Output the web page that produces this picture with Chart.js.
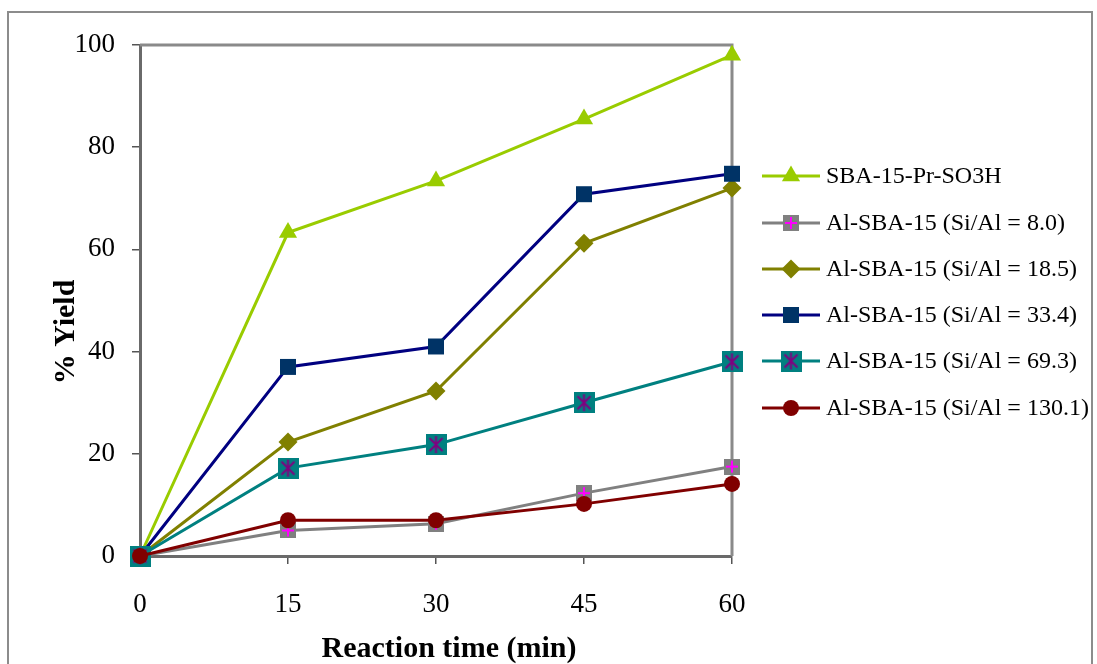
<!DOCTYPE html>
<html>
<head>
<meta charset="utf-8">
<script src="https://cdn.jsdelivr.net/npm/chart.js@4.4.1/dist/chart.umd.min.js"></script>
<style>
  html, body { margin: 0; padding: 0; background: #fff; }
  #wrap { width: 1097px; height: 664px; position: relative; }
</style>
</head>
<body>
<div id="wrap"><canvas id="c" width="1097" height="664"></canvas></div>
<script>
// Reaction time (min)
const times = [0, 15, 30, 45, 60];
const yTicks = [0, 20, 40, 60, 80, 100];

// % Yield per catalyst
const sbaPrSO3H = [0, 63.3, 73.4, 85.5, 98.0];
const alSi8_0   = [0, 5.0, 6.3, 12.3, 17.5];
const alSi18_5  = [0, 22.3, 32.3, 61.2, 72.0];
const alSi33_4  = [0, 37.0, 41.0, 70.8, 74.8];
const alSi69_3  = [0, 17.2, 21.8, 30.0, 38.0];
const alSi130_1 = [0, 7.0, 7.0, 10.2, 14.1];

const seriesNames = [
  'SBA-15-Pr-SO3H',
  'Al-SBA-15 (Si/Al = 8.0)',
  'Al-SBA-15 (Si/Al = 18.5)',
  'Al-SBA-15 (Si/Al = 33.4)',
  'Al-SBA-15 (Si/Al = 69.3)',
  'Al-SBA-15 (Si/Al = 130.1)'
];

const xTitle = 'Reaction time (min)';
const yTitle = '% Yield';

// Marker images for the two composite markers
function squareMarker(size, fill, drawGlyph) {
  const cv = document.createElement('canvas');
  cv.width = size; cv.height = size;
  const g = cv.getContext('2d');
  g.fillStyle = fill;
  g.fillRect(0, 0, size, size);
  drawGlyph(g, size);
  return cv;
}
const plusMarker = squareMarker(16, '#808080', (g, s) => {
  g.strokeStyle = '#FF00FF'; g.lineWidth = 2;
  g.beginPath();
  g.moveTo(s / 2, 2); g.lineTo(s / 2, s - 2);
  g.moveTo(2, s / 2); g.lineTo(s - 2, s / 2);
  g.stroke();
});
const starMarker = squareMarker(21, '#008080', (g, s) => {
  g.strokeStyle = '#800080'; g.lineWidth = 2;
  g.beginPath();
  g.moveTo(s / 2, 2); g.lineTo(s / 2, s - 2);
  g.moveTo(4, 4); g.lineTo(s - 4, s - 4);
  g.moveTo(s - 4, 4); g.lineTo(4, s - 4);
  g.stroke();
});

function pts(vals) { return times.map((t, i) => ({ x: t, y: vals[i] })); }

const styles = [
  { line: '#99CC00', fill: '#99CC00', style: 'triangle', r: 10.5 },
  { line: '#808080', fill: '#808080', style: plusMarker, r: 8 },
  { line: '#808000', fill: '#808000', style: 'rectRot', r: 9.5 },
  { line: '#000080', fill: '#003366', style: 'rect', r: 11.3 },
  { line: '#008080', fill: '#008080', style: starMarker, r: 10 },
  { line: '#800000', fill: '#800000', style: 'circle', r: 8 }
];
const values = [sbaPrSO3H, alSi8_0, alSi18_5, alSi33_4, alSi69_3, alSi130_1];

const datasets = values.map((v, i) => ({
  label: seriesNames[i],
  data: pts(v),
  borderColor: styles[i].line,
  backgroundColor: styles[i].fill,
  pointBackgroundColor: styles[i].fill,
  pointBorderColor: styles[i].fill,
  pointBorderWidth: 0,
  pointStyle: styles[i].style,
  pointRadius: styles[i].r,
  pointHoverRadius: styles[i].r,
  borderWidth: 3,
  tension: 0,
  clip: false,
  order: values.length - i
}));

const serif = '"Liberation Serif", "Times New Roman", serif';

// Outer frame, plot-area frame, axis titles and the right-hand legend
const framePlugin = {
  id: 'frame',
  beforeDraw(chart) {
    const ctx = chart.ctx;
    ctx.save();
    ctx.fillStyle = '#fff';
    ctx.fillRect(0, 0, chart.width, chart.height);
    ctx.strokeStyle = '#8c8c8c';
    ctx.lineWidth = 2;
    ctx.strokeRect(8, 12, 1084, 670);
    ctx.restore();
  },
  beforeDatasetsDraw(chart) {
    const { ctx, chartArea: a } = chart;
    ctx.save();
    ctx.strokeStyle = '#8a8a8a';
    ctx.lineWidth = 3;
    ctx.beginPath();
    ctx.moveTo(a.left, a.top);
    ctx.lineTo(a.right, a.top);
    ctx.lineTo(a.right, a.bottom);
    ctx.stroke();
    ctx.restore();
  },
  afterDraw(chart) {
    const ctx = chart.ctx;
    const a = chart.chartArea;
    ctx.save();

    // axis titles
    ctx.fillStyle = '#000';
    ctx.font = 'bold 30px ' + serif;
    ctx.textAlign = 'center';
    ctx.textBaseline = 'alphabetic';
    ctx.fillText(xTitle, a.left + (a.right - a.left) / 2 + 13, 657);
    ctx.save();
    ctx.translate(66, 332);
    ctx.rotate(-Math.PI / 2);
    ctx.textBaseline = 'middle';
    ctx.fillText(yTitle, 0, 0);
    ctx.restore();

    // legend
    const rowY = [176, 223, 269, 315, 361, 408];
    chart.data.datasets.forEach((ds, i) => {
      const y = rowY[i];
      ctx.strokeStyle = ds.borderColor;
      ctx.lineWidth = 3;
      ctx.beginPath();
      ctx.moveTo(762, y); ctx.lineTo(820, y);
      ctx.stroke();
      ctx.fillStyle = ds.pointBackgroundColor;
      ctx.strokeStyle = ds.pointBackgroundColor;
      ctx.lineWidth = 0;
      Chart.helpers.drawPoint(ctx, {
        pointStyle: ds.pointStyle,
        radius: ds.pointRadius,
        rotation: 0,
        borderWidth: 0
      }, 791, y);
      ctx.fillStyle = '#000';
      ctx.font = '24px ' + serif;
      ctx.textBaseline = 'middle';
      ctx.textAlign = 'left';
      ctx.fillText(ds.label, 826, y + 1);
    });
    ctx.restore();
  }
};

new Chart(document.getElementById('c'), {
  type: 'line',
  data: { datasets },
  plugins: [framePlugin],
  options: {
    responsive: false,
    animation: false,
    devicePixelRatio: 1,
    layout: { padding: { left: 0, right: 365, top: 45, bottom: 0 } },
    plugins: { legend: { display: false }, tooltip: { enabled: false } },
    scales: {
      x: {
        type: 'linear',
        min: 0, max: 60,
        afterFit(s) { s.height = 108; },
        afterBuildTicks(s) { s.ticks = times.map(v => ({ value: v })); },
        ticks: { color: '#000', font: { family: serif, size: 27 }, padding: 25, maxRotation: 0 },
        grid: { drawOnChartArea: false, tickLength: 8, color: '#555', lineWidth: 1.5 },
        border: { color: '#6a6a6a', width: 3 },
        title: { display: false }
      },
      y: {
        type: 'linear',
        min: 0, max: 100,
        afterFit(s) { s.width = 140; },
        afterBuildTicks(s) { s.ticks = yTicks.map(v => ({ value: v })); },
        ticks: { color: '#000', font: { family: serif, size: 27 }, padding: 17 },
        grid: { drawOnChartArea: false, tickLength: 8, color: '#555', lineWidth: 1.5 },
        border: { color: '#6a6a6a', width: 3 },
        title: { display: false }
      }
    }
  }
});
</script>
</body>
</html>
